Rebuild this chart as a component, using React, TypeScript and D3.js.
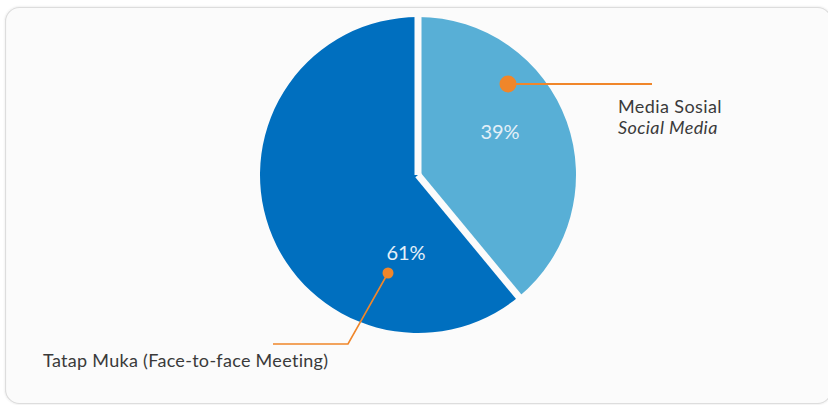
import React from "react";
import * as d3 from "d3";

const categories = ["Media Sosial", "Tatap Muka"];
const categoriesEn = ["Social Media", "(Face-to-face Meeting)"];
const values = [39, 61];
const percentLabels = ["39%", "61%"];
const colors = ["#58afd6", "#006fbf"];

const W = 828;
const H = 405;
const cx = 418;
const cy = 175;
const R = 158;

export default function App() {
  const pie = d3
    .pie<number>()
    .sort(null)
    .value((d) => d)
    .startAngle(0)
    .endAngle(2 * Math.PI);
  const arcs = pie(values);
  const arc = d3.arc<d3.PieArcDatum<number>>().innerRadius(0).outerRadius(R);

  const orange = "#f0862a";
  const font = "Lato, 'Open Sans', sans-serif";

  const boundaries = arcs.map((a) => a.startAngle);

  return (
    <svg
      width={W}
      height={H}
      style={{ position: "absolute", left: 0, top: 0, background: "#ffffff" }}
    >
      <defs>
        <filter id="sh" x="-5%" y="-5%" width="110%" height="110%">
          <feDropShadow dx="0" dy="0" stdDeviation="1.2" floodColor="#000" floodOpacity="0.12" />
        </filter>
      </defs>
      <rect
        x={5.5}
        y={7.5}
        width={826}
        height={396}
        rx={14}
        fill="#fbfbfb"
        stroke="#dddddd"
        strokeWidth={1.2}
        filter="url(#sh)"
      />
      <g transform={`translate(${cx},${cy})`}>
        {arcs.map((a, i) => (
          <path key={categories[i]} d={arc(a) || ""} fill={colors[i]} />
        ))}
        {boundaries.map((ang, i) => (
          <line
            key={i}
            x1={0}
            y1={0}
            x2={(R + 3) * Math.sin(ang)}
            y2={-(R + 3) * Math.cos(ang)}
            stroke="#fbfbfb"
            strokeWidth={7}
            strokeLinecap="butt"
          />
        ))}
      </g>

      {/* Percent labels */}
      <text x={500} y={139} textAnchor="middle" fontFamily={font} fontSize={20} fill="#e4f0f8">
        {percentLabels[0]}
      </text>
      <text x={406} y={260} textAnchor="middle" fontFamily={font} fontSize={20} fill="#e4f0f8">
        {percentLabels[1]}
      </text>

      {/* Leader: Media Sosial */}
      <line x1={508} y1={84} x2={652} y2={84} stroke={orange} strokeWidth={2} />
      <circle cx={508} cy={84} r={8.5} fill={orange} />
      <text x={618} y={113} fontFamily={font} fontSize={18} letterSpacing={0.4} fill="#3a3a3a">
        {categories[0]}
      </text>
      <text x={618} y={134} fontFamily={font} fontSize={18} letterSpacing={0.4} fontStyle="italic" fill="#3a3a3a">
        {categoriesEn[0]}
      </text>

      {/* Leader: Tatap Muka */}
      <polyline
        points="388,273 348,344 273,344"
        fill="none"
        stroke={orange}
        strokeWidth={1.6}
      />
      <circle cx={388} cy={273} r={5.5} fill={orange} />
      <text x={43} y={367} fontFamily={font} fontSize={18} letterSpacing={0.3} fill="#3a3a3a">
        {`${categories[1]} ${categoriesEn[1]}`}
      </text>
    </svg>
  );
}
